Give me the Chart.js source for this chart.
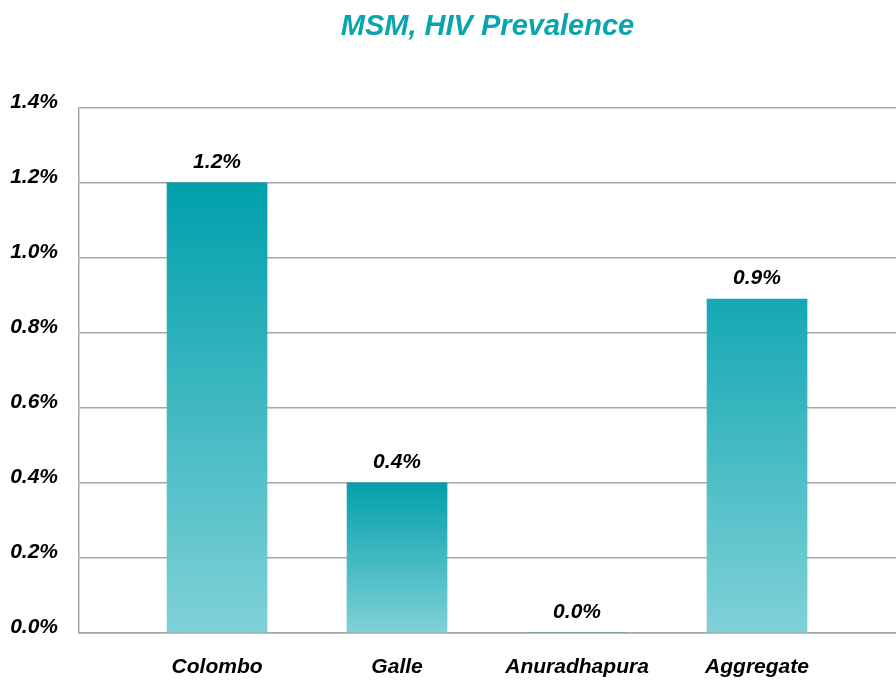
<!DOCTYPE html>
<html>
<head>
<meta charset="utf-8">
<title>MSM, HIV Prevalence</title>
<script src="https://cdn.jsdelivr.net/npm/chart.js@4/dist/chart.umd.min.js"></script>
<style>
    html, body { margin: 0; padding: 0; background: #fff; }
    #wrap { width: 896px; height: 681px; }
</style>
</head>
<body>
<div id="wrap"><canvas id="prevalence-chart" width="896" height="681"></canvas></div>
<script>
// Chart data
const categories = ['Colombo', 'Galle', 'Anuradhapura', 'Aggregate'];
const prevalence = [1.2, 0.4, 0.0, 0.89];
const yTicks = [0, 0.2, 0.4, 0.6, 0.8, 1.0, 1.2, 1.4];

const labelFont = "'Liberation Sans', Arial, sans-serif";
const gridGray = '#a6a6a6';
const topColors = ['#00a0ac', '#02a0ac', '#02a0ac', '#14a8b4'];
const bottomColor = '#80d1d7';

// Vertical gradient per bar, from its top down to zero
function barGradient(context) {
    const chart = context.chart;
    const i = context.dataIndex;
    if (!chart.chartArea || !context.raw) return topColors[i];
    const yScale = chart.scales.y;
    const top = yScale.getPixelForValue(context.raw.y);
    const base = yScale.getPixelForValue(0);
    if (base - top < 1) return topColors[i];
    const g = chart.ctx.createLinearGradient(0, top, 0, base);
    g.addColorStop(0, topColors[i]);
    g.addColorStop(1, bottomColor);
    return g;
}

// Value labels over the bars
const valueLabels = {
    id: 'valueLabels',
    afterDatasetsDraw(chart) {
        const ctx = chart.ctx;
        const meta = chart.getDatasetMeta(0);
        ctx.save();
        ctx.font = "italic bold 21px " + labelFont;
        ctx.fillStyle = '#000';
        ctx.textAlign = 'center';
        ctx.textBaseline = 'middle';
        meta.data.forEach((bar, i) => {
            ctx.fillText(prevalence[i].toFixed(1) + '%', bar.x, bar.y - 21);
        });
        ctx.restore();
    }
};

const chartCtx = document.getElementById('prevalence-chart').getContext('2d');
new Chart(chartCtx, {
    type: 'bar',
    data: {
        datasets: [{
            data: categories.map((c, i) => ({ x: i, y: prevalence[i] })),
            backgroundColor: barGradient,
            borderWidth: 0,
            barThickness: 100
        }]
    },
    options: {
        responsive: false,
        animation: false,
        layout: { padding: { left: 10, right: 0, top: 0, bottom: 0 } },
        plugins: {
            legend: { display: false },
            tooltip: { enabled: false },
            title: {
                display: true,
                text: 'MSM, HIV Prevalence',
                fullSize: false,
                color: '#0aa4ae',
                font: { family: labelFont, size: 29, weight: 'bold', style: 'italic' },
                padding: { top: 10, bottom: 63 }
            }
        },
        scales: {
            x: {
                type: 'linear',
                offset: false,
                bounds: 'data',
                min: -0.767,
                max: 3.772,
                afterBuildTicks: (scale) => {
                    scale.ticks = categories.map((c, i) => ({ value: i }));
                },
                afterFit: (scale) => {
                    scale.height = 48;
                    scale.paddingLeft = 0;
                    scale.paddingRight = 0;
                },
                grid: { display: false },
                border: { display: true, color: gridGray, width: 1.5 },
                ticks: {
                    color: '#000',
                    padding: 14,
                    maxRotation: 0,
                    autoSkip: false,
                    font: { family: labelFont, size: 21, weight: 'bold', style: 'italic' },
                    callback: (v) => categories[v]
                }
            },
            y: {
                min: 0,
                max: 1.4,
                afterBuildTicks: (scale) => {
                    scale.ticks = yTicks.map(v => ({ value: v }));
                },
                afterFit: (scale) => { scale.width = 69; },
                grid: { color: gridGray, lineWidth: 1.5, drawTicks: false },
                border: { display: true, color: gridGray, width: 1.5 },
                ticks: {
                    color: '#000',
                    padding: 21,
                    labelOffset: -6,
                    font: { family: labelFont, size: 21, weight: 'bold', style: 'italic' },
                    callback: (v) => v.toFixed(1) + '%'
                }
            }
        }
    },
    plugins: [valueLabels]
});
</script>
</body>
</html>
